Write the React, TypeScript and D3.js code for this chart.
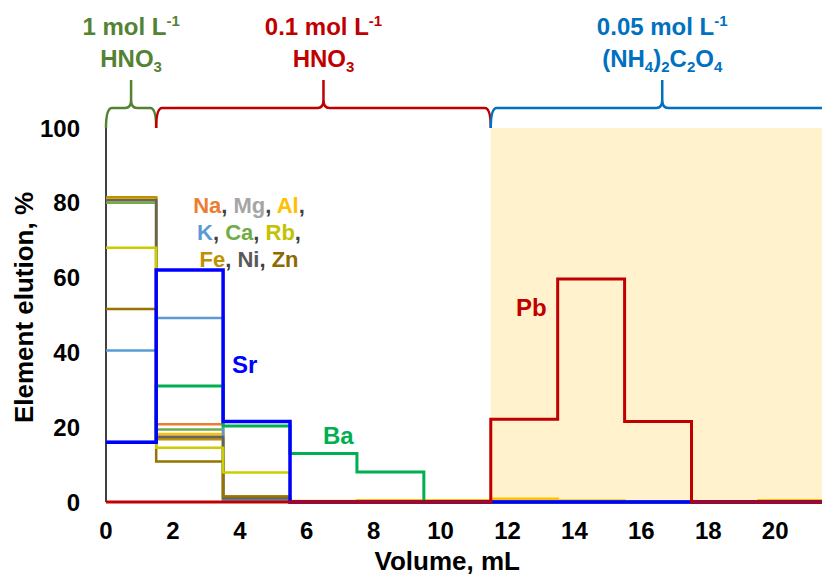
import * as d3 from 'd3';

// fraction edges (mL) and elution per fraction (%)
const edges = [0, 1.5, 3.5, 5.5, 7.5, 9.5, 11.5, 13.5, 15.5, 17.5, 19.5, 21.5];

const naVals = [81, 20.8, 1.5, 0, 0, 0, 0, 0, 0, 0, 0];
const mgVals = [81, 17.5, 0.8, 0, 0, 0, 0, 0, 0, 0, 0];
const alVals = [81.2, 18.2, 0.5, 0.3, 0.5, 0.5, 0.9, 0.4, 0.1, 0, 0.5];
const caVals = [80, 19.4, 0.5, 0, 0, 0, 0, 0, 0, 0, 0];
const feVals = [81.5, 16.8, 1, 0, 0, 0, 0, 0, 0, 0, 0];
const kVals = [40.5, 49.2, 0.5, 0, 0, 0, 0, 0, 0, 0, 0];
const niVals = [80.7, 17.4, 1, 0, 0, 0, 0, 0, 0, 0, 0];
const znVals = [51.6, 10.8, 1.5, 0, 0, 0, 0, 0, 0, 0, 0];
const rbVals = [68, 14.5, 7.9, 0, 0, 0, 0, 0, 0, 0, 0];
const baVals = [16, 31, 20.3, 13, 8, 0, 0, 0, 0, 0, 0];
const srVals = [16, 62, 21.5, 0, 0, 0, 0, 0, 0, 0, 0];
const pbVals = [0, 0, 0, 0, 0, 0, 22.1, 59.6, 21.5, 0, 0];

// draw order matters: later series sit on top
const series = [
  { name: 'Na', values: naVals, color: '#ED7D31', width: 2.5 },
  { name: 'Mg', values: mgVals, color: '#A5A5A5', width: 2.5 },
  { name: 'Al', values: alVals, color: '#FFC000', width: 2.5 },
  { name: 'Ca', values: caVals, color: '#70AD47', width: 2.5 },
  { name: 'Fe', values: feVals, color: '#BF9000', width: 2.5 },
  { name: 'K', values: kVals, color: '#5B9BD5', width: 2.5 },
  { name: 'Ni', values: niVals, color: '#636363', width: 2.5 },
  { name: 'Zn', values: znVals, color: '#997300', width: 2.5 },
  { name: 'Rb', values: rbVals, color: '#CCCC00', width: 2.5 },
  { name: 'Ba', values: baVals, color: '#00B050', width: 3 },
  { name: 'Sr', values: srVals, color: '#0000FF', width: 3.5 },
  { name: 'Pb', values: pbVals, color: '#C00000', width: 3 },
];

const xTicks = [0, 2, 4, 6, 8, 10, 12, 14, 16, 18, 20];
const yTicks = [0, 20, 40, 60, 80, 100];

// eluent braces
const braceFrom = [0, 1.5, 11.5];
const braceTo = [1.5, 11.5, 21.75];
const braceColors = ['#548235', '#C00000', '#0070C0'];
const braceConc = ['1', '0.1', '0.05'];

const legendRows = [
  [['Na', '#ED7D31'], ['Mg', '#A5A5A5'], ['Al', '#FFC000']],
  [['K', '#5B9BD5'], ['Ca', '#70AD47'], ['Rb', '#C2C200']],
  [['Fe', '#BF9000'], ['Ni', '#595959'], ['Zn', '#8C6A00']],
];

const W = 822;
const H = 577;
const FONT = '"Liberation Sans", Arial, sans-serif';

export default function App() {
  const x = d3.scaleLinear().domain([0, 21.4]).range([106, 822]);
  const y = d3.scaleLinear().domain([0, 100]).range([502, 128]);

  const line = d3
    .line<[number, number]>()
    .x((d) => x(d[0]))
    .y((d) => y(d[1]))
    .curve(d3.curveStepAfter);

  const pts = (vals: number[]): [number, number][] => {
    const p = vals.map((v, i) => [edges[i], v] as [number, number]);
    p.push([edges[edges.length - 1], vals[vals.length - 1]]);
    return p;
  };

  const braceY = 108;
  const braceEnd = y(100);
  const braceTop = 80;
  const bracePath = (a: number, b: number) => {
    const x0 = x(a);
    const x1 = x(b);
    const m = (x0 + x1) / 2;
    const r = 6;
    return (
      `M${x0},${braceEnd} Q${x0},${braceY} ${x0 + r},${braceY} L${m - r},${braceY} ` +
      `Q${m},${braceY} ${m},${braceY - 8} L${m},${braceTop} L${m},${braceY - 8} ` +
      `Q${m},${braceY} ${m + r},${braceY} L${x1 - r},${braceY} Q${x1},${braceY} ${x1},${braceEnd}`
    );
  };

  return (
    <svg
      width={W}
      height={H}
      style={{ position: 'absolute', left: 0, top: 0, background: '#fff' }}
      fontFamily={FONT}
      fontWeight="bold"
    >
      <defs>
        <clipPath id="plot">
          <rect x={x(0) - 2} y={y(100) - 2} width={W - x(0) + 2} height={y(0) - y(100) + 6} />
        </clipPath>
      </defs>

      {/* oxalate eluent zone */}
      <rect x={x(11.5)} y={y(100)} width={W - x(11.5)} height={y(0) - y(100)} fill="#FFF2CC" />

      {/* axes */}
      <line x1={x(0)} x2={x(0)} y1={y(100)} y2={y(0)} stroke="#000" strokeWidth={1.5} />
      <line x1={x(0)} x2={W} y1={y(0)} y2={y(0)} stroke="#000" strokeWidth={1.5} />

      <g clipPath="url(#plot)">
        {series.map((s) => (
          <path
            key={s.name}
            d={line(pts(s.values)) ?? ''}
            fill="none"
            stroke={s.color}
            strokeWidth={s.width}
            strokeLinejoin="miter"
          />
        ))}
      </g>

      {/* tick labels */}
      {yTicks.map((t) => (
        <text key={t} x={80} y={y(t)} dy="0.36em" textAnchor="end" fontSize={24} fill="#000">
          {t}
        </text>
      ))}
      {xTicks.map((t) => (
        <text key={t} x={x(t)} y={539} textAnchor="middle" fontSize={24} fill="#000">
          {t}
        </text>
      ))}

      <text x={x(10.2)} y={570} textAnchor="middle" fontSize={26} fill="#000">
        Volume, mL
      </text>
      <text
        transform={`translate(33,${y(52)}) rotate(-90)`}
        textAnchor="middle"
        fontSize={26}
        fill="#000"
      >
        Element elution, %
      </text>

      {/* element labels */}
      {legendRows.map((row, i) => (
        <text key={i} x={249} y={213 + i * 27} textAnchor="middle" fontSize={22}>
          {row.map(([n, c], j) => (
            <tspan key={n}>
              <tspan fill={c}>{n}</tspan>
              {(i < 2 || j < 2) && <tspan fill="#404040">{j < 2 ? ', ' : ','}</tspan>}
            </tspan>
          ))}
        </text>
      ))}
      <text x={232} y={373} fontSize={24} fill="#0000FF">Sr</text>
      <text x={323} y={444} fontSize={24} fill="#00B050">Ba</text>
      <text x={516} y={316} fontSize={24} fill="#C00000">Pb</text>

      {/* eluent braces and labels */}
      {braceFrom.map((a, i) => {
        const cx = (x(a) + x(braceTo[i])) / 2;
        const c = braceColors[i];
        return (
          <g key={i}>
            <path d={bracePath(a, braceTo[i])} fill="none" stroke={c} strokeWidth={2.5} />
            <text x={cx} y={35} textAnchor="middle" fontSize={24} fill={c}>
              {braceConc[i]} mol L
              <tspan fontSize={15} dy={-9}>-1</tspan>
            </text>
            {i < 2 ? (
              <text x={cx} y={67} textAnchor="middle" fontSize={24} fill={c}>
                HNO<tspan fontSize={15} dy={5}>3</tspan>
              </text>
            ) : (
              <text x={cx} y={67} textAnchor="middle" fontSize={24} fill={c}>
                (NH<tspan fontSize={15} dy={5}>4</tspan>
                <tspan dy={-5}>)</tspan>
                <tspan fontSize={15} dy={5}>2</tspan>
                <tspan dy={-5}>C</tspan>
                <tspan fontSize={15} dy={5}>2</tspan>
                <tspan dy={-5}>O</tspan>
                <tspan fontSize={15} dy={5}>4</tspan>
              </text>
            )}
          </g>
        );
      })}
    </svg>
  );
}
